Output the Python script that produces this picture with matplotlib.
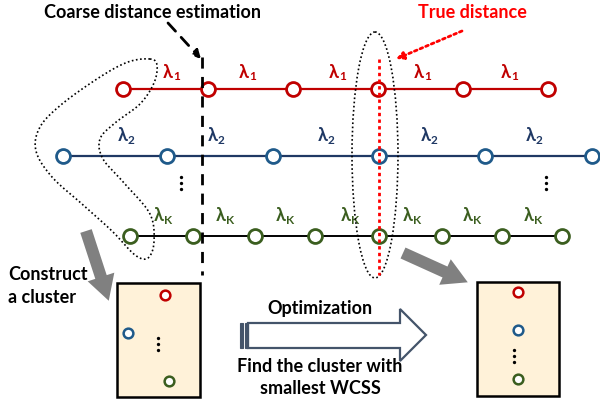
import matplotlib
matplotlib.use("Agg")
import numpy as np
import matplotlib.pyplot as plt
from matplotlib.patches import Ellipse, Polygon, Rectangle, FancyArrow

plt.rcParams['font.family'] = ['Lato', 'DejaVu Sans']

# ---- data: node positions of the three wavelength rows ----
row1_x = [123, 208, 293, 378, 463, 548]
row2_x = [63, 167, 273, 379, 485, 592]
row3_x = [130, 193, 255, 315, 379, 442, 502, 562]
row_y = [90, 157, 237]
lab1_x = [172, 248, 338, 423, 510]
lab2_x = [127, 217, 327, 430, 535]
lab3_x = [163, 225, 285, 350, 412, 472, 533]
lab_y = [72, 136, 216]
row_labels = ['1', '2', 'K']
# cluster boxes: (x, y) of the member circles
box1_pts = [(165, 296, 'r'), (128, 334, 'b'), (169, 382, 'g')]
box2_pts = [(518, 293, 'r'), (518, 331, 'b'), (518, 380, 'g')]

RED = '#C00000'
BLUE_N = '#1F5A8A'
BLUE_T = '#1F3864'
GREEN = '#3B5E1F'
SLATE = '#44546A'
BOXFILL = '#FFF2D9'
CMAP = {'r': RED, 'b': BLUE_N, 'g': GREEN}
FS = 13

fig = plt.figure(figsize=(6.0, 4.02), dpi=100)
ax = fig.add_axes([0, 0, 1, 1])
ax.set_xlim(0, 600)
ax.set_ylim(402, 0)
ax.axis('off')


def lam(x, y, sub, color):
    ax.text(x + 1, y, 'λ', fontsize=13, fontweight='bold', color=color,
            ha='right', va='center')
    ax.text(x + 1, y + 5, sub, fontsize=8.5, fontweight='bold', color=color,
            ha='left', va='center')


def vdots(x, y):
    ax.plot([x] * 3, [y - 6, y, y + 6], 'o', ms=2.4, mew=0, color='black', zorder=4)


ms = 10
mew = 2.0
# row 1
ax.plot([row1_x[0], row1_x[-1]], [row_y[0]] * 2, color=RED, lw=1.6, zorder=2)
ax.plot(row1_x, [row_y[0]] * len(row1_x), 'o', ms=ms, mew=mew, mfc='white', mec=RED, zorder=4)
for x in lab1_x:
    lam(x, lab_y[0], row_labels[0], RED)
# row 2
ax.plot([row2_x[0], 600], [row_y[1]] * 2, color=BLUE_T, lw=1.6, zorder=2)
ax.plot(row2_x, [row_y[1]] * len(row2_x), 'o', ms=ms, mew=mew, mfc='white', mec=BLUE_N, zorder=4)
for x in lab2_x:
    lam(x, lab_y[1], row_labels[1], BLUE_T)
# row 3
ax.plot([row3_x[0], row3_x[-1]], [row_y[2]] * 2, color='black', lw=1.4, zorder=2)
ax.plot(row3_x, [row_y[2]] * len(row3_x), 'o', ms=ms, mew=mew, mfc='white', mec=GREEN, zorder=4)
for x in lab3_x:
    lam(x, lab_y[2], row_labels[2], GREEN)

# vertical dots
for x in [181, 546]:
    vdots(x, 184)

# coarse distance dashed line
ax.plot([202, 202], [58, 276], color='black', lw=2, ls=(0, (4, 3)), zorder=5)
ax.annotate('', xy=(201, 60), xytext=(168, 24),
            arrowprops=dict(arrowstyle='-|>', color='black', lw=2, ls=(0, (4, 3)),
                            mutation_scale=12, shrinkA=0, shrinkB=0))
ax.text(153, 13, 'Coarse distance estimation', fontsize=FS, fontweight='bold',
        ha='center', va='center', color='black')

# true distance
ax.plot([379, 379], [60, 276], color='#FF0000', lw=2, ls=(0, (1.2, 1.2)), zorder=5)
ax.annotate('', xy=(396, 60), xytext=(462, 32),
            arrowprops=dict(arrowstyle='-|>', color='#FF0000', lw=2, ls=(0, (1, 1.2)),
                            mutation_scale=11, shrinkA=0, shrinkB=0))
ax.text(472, 13, 'True distance', fontsize=FS, fontweight='bold',
        ha='center', va='center', color='#FF0000')

# dotted ellipse
ax.add_patch(Ellipse((375, 156), 46, 246, fill=False, ec='black', lw=1.2,
                     ls=(0, (1, 1.5)), zorder=3))

# freeform dotted loop (closed Catmull-Rom spline)
loop = np.array([(150, 60), (128, 63), (100, 78), (62, 105), (40, 128),
                 (36, 152), (52, 178), (82, 205), (112, 232), (135, 256), (148, 259),
                 (154, 243), (150, 215), (125, 185), (103, 160), (100, 140), (115, 124),
                 (140, 105), (154, 84), (157, 66)], dtype=float)
n = len(loop)
pts = []
for i in range(n):
    p0, p1, p2, p3 = loop[i - 1], loop[i], loop[(i + 1) % n], loop[(i + 2) % n]
    for t in np.linspace(0, 1, 12, endpoint=False):
        t2, t3 = t * t, t * t * t
        pts.append(0.5 * ((2 * p1) + (-p0 + p2) * t + (2 * p0 - 5 * p1 + 4 * p2 - p3) * t2
                          + (-p0 + 3 * p1 - 3 * p2 + p3) * t3))
pts.append(pts[0])
pts = np.array(pts)
ax.plot(pts[:, 0], pts[:, 1], color='black', lw=1.2, ls=(0, (1, 1.5)), zorder=3)

# gray arrows
ax.add_patch(FancyArrow(86, 232, 15, 46, width=12, head_width=28, head_length=25,
                        length_includes_head=False, color='#808080', lw=0, zorder=3))
ax.add_patch(FancyArrow(403, 254, 42, 19, width=12, head_width=28, head_length=25,
                        color='#808080', lw=0, zorder=3))

ax.text(8, 275, 'Construct', fontsize=FS, fontweight='bold', ha='left', va='center')
ax.text(8, 298, 'a cluster', fontsize=FS, fontweight='bold', ha='left', va='center')

# cluster boxes
for (bx, by, bw, bh), pts_ in [((117, 284, 83, 114), box1_pts), ((477, 283, 82, 114), box2_pts)]:
    ax.add_patch(Rectangle((bx, by), bw, bh, fc=BOXFILL, ec='black', lw=1.8, zorder=2))
    for (px, py, c) in pts_:
        ax.plot(px, py, 'o', ms=7, mew=1.8, mfc='white', mec=CMAP[c], zorder=4)
vdots(158, 345)
vdots(514, 357)

# hollow optimization arrow
arrow = [(248, 324), (400, 324), (400, 310), (426, 336), (400, 362), (400, 349), (248, 349)]
ax.add_patch(Polygon(arrow, closed=True, fc='white', ec=SLATE, lw=1.6, zorder=3))
ax.add_patch(Rectangle((240, 324), 3, 25, fc=SLATE, ec=SLATE, lw=0.8, zorder=3))
ax.add_patch(Rectangle((245, 324), 2.5, 25, fc=SLATE, ec=SLATE, lw=0.8, zorder=3))

ax.text(320, 309, 'Optimization', fontsize=FS, fontweight='bold', ha='center', va='center')
ax.text(320, 367, 'Find the cluster with', fontsize=FS, fontweight='bold', ha='center', va='center')
ax.text(320, 389, 'smallest WCSS', fontsize=FS, fontweight='bold', ha='center', va='center')

fig.savefig('out.png', dpi=100)
